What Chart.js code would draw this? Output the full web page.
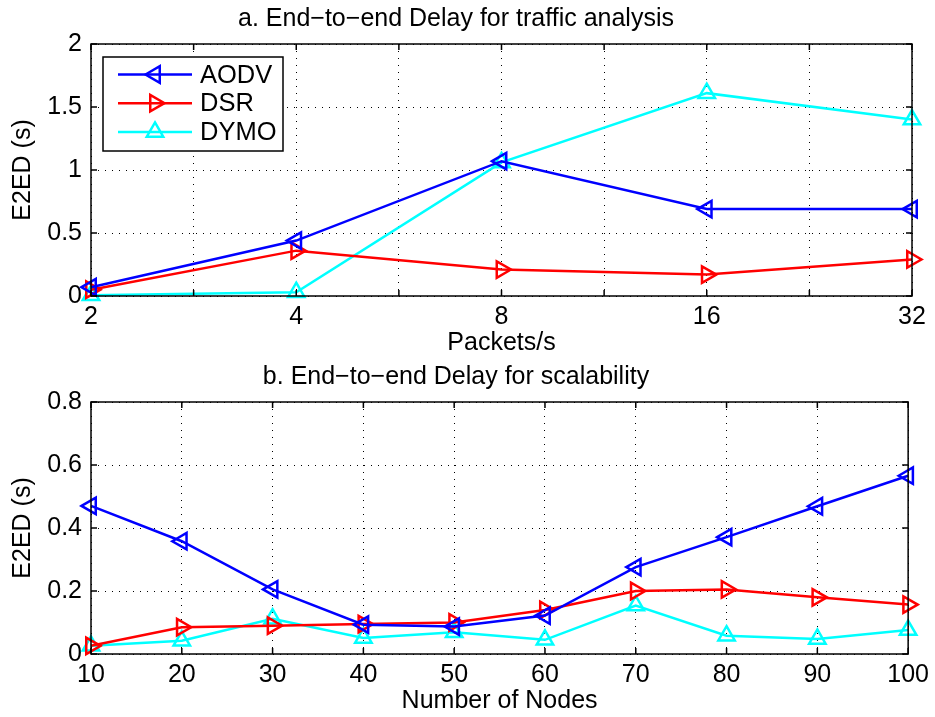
<!DOCTYPE html>
<html><head><meta charset="utf-8">
<script src="https://cdn.jsdelivr.net/npm/chart.js@4.4.1/dist/chart.umd.min.js"></script>
<style>
html,body{margin:0;padding:0;background:#fff;}
#wrap{position:relative;width:935px;height:717px;background:#fff;}
.box{position:absolute;left:0;width:935px;height:358px;}
</style></head><body>
<div id="wrap">
<div class="box" style="top:0"><canvas id="c1"></canvas></div>
<div class="box" style="top:358px"><canvas id="c2"></canvas></div>
</div>
<script>
// ---- data ----
const packetRates = [2, 4, 8, 16, 32];
const trafficAODV = [0.07, 0.44, 1.07, 0.69, 0.69];
const trafficDSR  = [0.05, 0.36, 0.21, 0.17, 0.29];
const trafficDYMO = [0.005, 0.03, 1.06, 1.61, 1.40];

const nodeCounts = [10, 20, 30, 40, 50, 60, 70, 80, 90, 100];
const scaleAODV = [0.47, 0.358, 0.205, 0.093, 0.087, 0.122, 0.276, 0.371, 0.469, 0.566];
const scaleDSR  = [0.026, 0.085, 0.09, 0.095, 0.1, 0.14, 0.2, 0.205, 0.18, 0.157];
const scaleDYMO = [0.026, 0.042, 0.112, 0.051, 0.069, 0.045, 0.154, 0.058, 0.048, 0.076];

const topYTicks = [0, 0.5, 1, 1.5, 2];
const bottomYTicks = [0, 0.2, 0.4, 0.6, 0.8];
const seriesNames = ['AODV', 'DSR', 'DYMO'];
const seriesColors = ['#0000ff', '#ff0000', '#00ffff'];
const markerRotation = [-90, 90, 0];

// ---- style ----
const FONT = '"Liberation Sans", Arial, Helvetica, sans-serif';
const FS = 25;
Chart.defaults.font.family = FONT;
Chart.defaults.font.size = FS;
Chart.defaults.color = '#000';

function triangle(ctx, x, y, r, rotDeg) {
  let rad = rotDeg * Math.PI / 180;
  ctx.beginPath();
  for (let k = 0; k < 3; k++) {
    const a = rad + k * 2 * Math.PI / 3;
    const px = x + Math.sin(a) * r, py = y - Math.cos(a) * r;
    if (k === 0) ctx.moveTo(px, py); else ctx.lineTo(px, py);
  }
  ctx.closePath();
  ctx.stroke();
}

const framePlugin = {
  id: 'frame',
  afterDatasetsDraw(chart, args, opts) {
    const { ctx, chartArea: a, scales } = chart;
    ctx.save();
    ctx.strokeStyle = '#000';
    ctx.lineWidth = 1.5;
    ctx.setLineDash([]);
    ctx.strokeRect(a.left, a.top, a.right - a.left, a.bottom - a.top);
    const L = 6;
    ctx.beginPath();
    scales.x.ticks.forEach(t => {
      const px = scales.x.getPixelForValue(t.value);
      ctx.moveTo(px, a.bottom); ctx.lineTo(px, a.bottom - L);
      ctx.moveTo(px, a.top); ctx.lineTo(px, a.top + L);
    });
    scales.y.ticks.forEach(t => {
      const py = scales.y.getPixelForValue(t.value);
      ctx.moveTo(a.left, py); ctx.lineTo(a.left + L, py);
      ctx.moveTo(a.right, py); ctx.lineTo(a.right - L, py);
    });
    ctx.stroke();
    if (opts && opts.legend) {
      const x0 = a.left + 12, y0 = a.top + 13, w = 180, h = 94;
      ctx.fillStyle = '#fff';
      ctx.fillRect(x0, y0, w, h);
      ctx.lineWidth = 1.5;
      ctx.strokeRect(x0, y0, w, h);
      chart.data.datasets.forEach((ds, i) => {
        const yy = y0 + 17.5 + i * 28.7;
        ctx.strokeStyle = ds.borderColor;
        ctx.lineWidth = 2.5;
        ctx.beginPath();
        ctx.moveTo(x0 + 15, yy); ctx.lineTo(x0 + 89, yy);
        ctx.stroke();
        triangle(ctx, x0 + 52, yy, 9.5, ds.pointRotation);
        ctx.fillStyle = '#000';
        ctx.font = '25.5px ' + FONT;
        ctx.textAlign = 'left';
        ctx.textBaseline = 'middle';
        ctx.fillText(ds.label, x0 + 97, yy + 1);
      });
    }
    ctx.restore();
  }
};

function makeDatasets(xs, seriesList) {
  return seriesList.map((vals, i) => ({
    label: seriesNames[i],
    data: vals.map((v, j) => ({ x: xs[j], y: v })),
    borderColor: seriesColors[i],
    borderWidth: 2.5,
    pointStyle: 'triangle',
    pointRotation: markerRotation[i],
    pointRadius: 9.5,
    pointBorderWidth: 2.5,
    pointBackgroundColor: 'rgba(0,0,0,0)',
    pointBorderColor: seriesColors[i],
    tension: 0,
    clip: false
  }));
}

function baseOptions(title, xTitle, xScale, yTicks) {
  return {
    responsive: true,
    maintainAspectRatio: false,
    animation: false,
    devicePixelRatio: 1,
    layout: { padding: { left: 0, right: 23, top: 0, bottom: 0 } },
    plugins: {
      legend: { display: false },
      tooltip: { enabled: false },
      title: {
        display: true, text: title, color: '#000',
        font: { size: FS, weight: 'normal', lineHeight: 1.2 },
        padding: { top: 4, bottom: 10 }
      }
    },
    scales: {
      x: Object.assign({
        type: 'linear',
        grid: { color: '#000', lineWidth: 1, drawTicks: false },
        border: { display: false, dash: [1, 6] },
        title: { display: true, text: xTitle, color: '#000', font: { size: FS }, padding: { top: 0, bottom: 0 } },
        afterFit: s => { s.height = 62; }
      }, xScale),
      y: {
        type: 'linear',
        min: yTicks[0], max: yTicks[yTicks.length - 1],
        afterBuildTicks: s => { s.ticks = yTicks.map(v => ({ value: v })); },
        ticks: { padding: 9, color: '#000', font: { size: FS }, callback: v => String(v) },
        grid: { color: '#000', lineWidth: 1, drawTicks: false },
        border: { display: false, dash: [1, 6] },
        title: { display: true, text: 'E2ED (s)', color: '#000', font: { size: FS }, padding: { top: 8, bottom: 0 } },
        afterFit: s => { s.width = 91; }
      }
    }
  };
}

// top chart: packet rates on a log2 axis with grid every half step
const logRates = packetRates.map(r => Math.log2(r));
const topXGrid = [];
logRates.forEach((v, i) => { topXGrid.push(v); if (i < logRates.length - 1) topXGrid.push((v + logRates[i + 1]) / 2); });

const opt1 = baseOptions('a. End\u2212to\u2212end Delay for traffic analysis', 'Packets/s', {
  min: logRates[0], max: logRates[logRates.length - 1],
  afterBuildTicks: s => { s.ticks = topXGrid.map(v => ({ value: v })); },
  ticks: {
    padding: 6, color: '#000', font: { size: FS }, autoSkip: false, maxRotation: 0,
    callback: v => { const k = logRates.indexOf(v); return k >= 0 ? String(packetRates[k]) : ''; }
  }
}, topYTicks);
opt1.plugins.frame = { legend: true };

new Chart(document.getElementById('c1'), {
  type: 'line',
  data: { datasets: makeDatasets(logRates, [trafficAODV, trafficDSR, trafficDYMO]) },
  options: opt1,
  plugins: [framePlugin]
});

const opt2 = baseOptions('b. End\u2212to\u2212end Delay for scalability', 'Number of Nodes', {
  min: nodeCounts[0], max: nodeCounts[nodeCounts.length - 1],
  afterBuildTicks: s => { s.ticks = nodeCounts.map(v => ({ value: v })); },
  ticks: { padding: 6, color: '#000', font: { size: FS }, autoSkip: false, maxRotation: 0 }
}, bottomYTicks);
opt2.plugins.frame = { legend: false };

new Chart(document.getElementById('c2'), {
  type: 'line',
  data: { datasets: makeDatasets(nodeCounts, [scaleAODV, scaleDSR, scaleDYMO]) },
  options: opt2,
  plugins: [framePlugin]
});
</script>
</body></html>
